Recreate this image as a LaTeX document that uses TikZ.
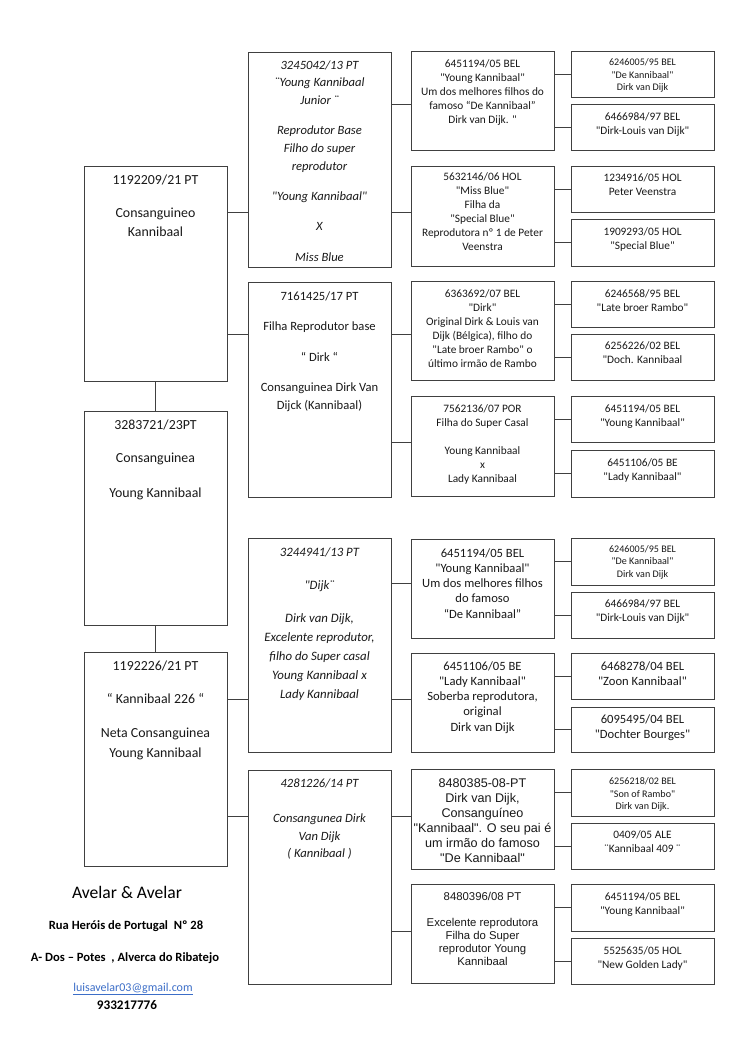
\documentclass[tikz,border=0pt]{standalone}
\usepackage{fontspec}
\newfontfamily\carl{Carlito}
\newfontfamily\arialf{Liberation Sans}
\definecolor{lc}{RGB}{64,64,64}
\definecolor{lnk}{RGB}{60,110,200}
\newcommand\fgA{\carl\fontsize{13.86}{19.45}\selectfont}
\newcommand\fgB{\carl\fontsize{12.6}{17.7}\selectfont\itshape}
\newcommand\fgBr{\carl\fontsize{12.6}{17.7}\selectfont}
\newcommand\fgBd{\carl\fontsize{12.8}{19}\selectfont\itshape}
\newcommand\fnine{\carl\fontsize{11.34}{14}\selectfont}
\newcommand\ften{\carl\fontsize{12.6}{15.3}\selectfont}
\newcommand\feight{\carl\fontsize{10.08}{12.3}\selectfont}
\newcommand\farA{\arialf\fontsize{12.6}{15.1}\selectfont}
\newcommand\farB{\arialf\fontsize{11.34}{13}\selectfont}
\tikzset{
  pbx/.style={draw=lc,line width=1pt,inner sep=0pt,outer sep=0pt,rectangle},
  ptxt/.style={inner sep=0pt,outer sep=0pt,align=center,text=black!90},
  link/.style={draw=lc,line width=1pt},
}
\newcommand\pbox[5]{\node[pbx,minimum width={(#4)-(#2)},minimum height={(#5)-(#3)}] (#1) at ({((#2)+(#4))/2},{((#3)+(#5))/2}) {};}
\newcommand\ptx[4]{\node[ptxt,font=#2,anchor=north] (#1t) at ([yshift=#3pt]#1.north) {\rule{0pt}{1em}#4};}
\begin{document}
\begin{tikzpicture}[x=1pt,y=-1pt]
\carl
\fill[white] (0,0) rectangle (750,1060);
\useasboundingbox (0,0) rectangle (750,1060);
% generation 1
\pbox{A}{84}{166}{227}{381}
\pbox{B}{84}{411}{227}{625}
\pbox{C}{84}{652}{227}{866}
% generation 2
\pbox{D1}{248}{52}{391}{267}
\pbox{D2}{248}{282}{391}{497}
\pbox{D3}{248}{538}{391}{752}
\pbox{D4}{248}{770}{391}{984}
% generation 3
\pbox{E1}{411}{51}{554}{150}
\pbox{E2}{411}{166}{554}{266}
\pbox{E3}{411}{281}{554}{380}
\pbox{E4}{411}{396}{554}{496}
\pbox{E5}{411}{539}{554}{638}
\pbox{E6}{411}{653}{554}{752}
\pbox{E7}{411}{769}{554}{869}
\pbox{E8}{411}{884}{554}{983}
% generation 4
\pbox{F1}{571}{51}{714}{97}
\pbox{F2}{571}{104}{714}{150}
\pbox{F3}{571}{166}{714}{212}
\pbox{F4}{571}{219}{714}{266}
\pbox{F5}{571}{281}{714}{327}
\pbox{F6}{571}{334}{714}{380}
\pbox{F7}{571}{396}{714}{442}
\pbox{F8}{571}{450}{714}{497}
\pbox{F9}{571}{538}{714}{585}
\pbox{F10}{571}{592}{714}{638}
\pbox{F11}{571}{653}{714}{699}
\pbox{F12}{571}{707}{714}{752}
\pbox{F13}{571}{769}{714}{816}
\pbox{F14}{571}{823}{714}{869}
\pbox{F15}{571}{884}{714}{931}
\pbox{F16}{571}{938}{714}{984}
% texts generation 1
\ptx{A}{\fgA}{-5.1}{1192209/21 PT\\[12.6pt]Consanguineo\\Kannibaal}
\ptx{B}{\fgA}{-5.1}{3283721/23PT\\[13.5pt]Consanguinea\\[15pt]Young Kannibaal}
\ptx{C}{\fgA}{-5.1}{1192226/21 PT\\[13.5pt]“ Kannibaal 226 “\\[14.5pt]Neta Consanguinea\\Young Kannibaal}
% texts generation 2
\ptx{D1}{\fgB}{-4.4}{3245042/13 PT\\¨Young Kannibaal\\Junior ¨\\[12.6pt]Reprodutor Base\\Filho do super\\reprodutor\\[12.6pt]"Young Kannibaal"\\[12.6pt]X\\[12.6pt]Miss Blue}
\ptx{D2}{\fgBr}{-5.4}{7161425/17 PT\\[12.6pt]Filha Reprodutor base\\[13pt]“ Dirk “\\[13pt]Consanguinea Dirk Van\\Dijck (Kannibaal)}
\ptx{D3}{\fgBd}{-5.2}{3244941/13 PT\\[14pt]"Dijk¨\\[14pt]Dirk van Dijk,\\Excelente reprodutor,\\filho do Super casal\\Young Kannibaal x\\Lady Kannibaal}
\ptx{D4}{\fgB}{-4.4}{4281226/14 PT\\[17.7pt]Consangunea Dirk\\Van Dijk\\( Kannibaal )}
% texts generation 3
\ptx{E1}{\fnine}{-4.7}{6451194/05 BEL\\"Young Kannibaal"\\Um dos melhores filhos do\\famoso “De Kannibaal”\\Dirk van Dijk. "}
\ptx{E2}{\fnine}{-2.7}{5632146/06 HOL\\"Miss Blue"\\Filha da\\"Special Blue"\\Reprodutora nº 1 de Peter\\Veenstra}
\ptx{E3}{\fnine}{-4.7}{6363692/07 BEL\\"Dirk"\\Original Dirk \& Louis van\\Dijk (Bélgica), filho do\\"Late broer Rambo" o\\último irmão de Rambo}
\ptx{E4}{\fnine}{-4.7}{7562136/07 POR\\Filha do Super Casal\\[14pt]Young Kannibaal\\x\\Lady Kannibaal}
\ptx{E5}{\ften}{-5.4}{6451194/05 BEL\\"Young Kannibaal"\\Um dos melhores filhos\\do famoso\\“De Kannibaal”}
\ptx{E6}{\ften}{-4.4}{6451106/05 BE\\"Lady Kannibaal"\\Soberba reprodutora,\\original\\Dirk van Dijk}
\ptx{E7}{\farA}{-5.4}{8480385-08-PT\\Dirk van Dijk,\\Consanguíneo\\"Kannibaal". O seu pai é\\um irmão do famoso\\"De Kannibaal"}
\ptx{E8}{\farB}{-4.7}{8480396/08 PT\\[13pt]Excelente reprodutora\\Filha do Super\\reprodutor Young\\Kannibaal}
% texts generation 4
\ptx{F1}{\feight}{-4.9}{6246005/95 BEL\\"De Kannibaal"\\Dirk van Dijk}
\ptx{F2}{\fnine}{-5.4}{6466984/97 BEL\\"Dirk-Louis van Dijk"}
\ptx{F3}{\fnine}{-3.7}{1234916/05 HOL\\Peter Veenstra}
\ptx{F4}{\fnine}{-4.7}{1909293/05 HOL\\"Special Blue"}
\ptx{F5}{\fnine}{-4.7}{6246568/95 BEL\\"Late broer Rambo"}
\ptx{F6}{\fnine}{-4.3}{6256226/02 BEL\\"Doch. Kannibaal}
\ptx{F7}{\fnine}{-4.7}{6451194/05 BEL\\"Young Kannibaal"}
\ptx{F8}{\fnine}{-4.7}{6451106/05 BE\\"Lady Kannibaal"}
\ptx{F9}{\feight}{-4.4}{6246005/95 BEL\\"De Kannibaal"\\Dirk van Dijk}
\ptx{F10}{\fnine}{-4.3}{6466984/97 BEL\\"Dirk-Louis van Dijk"}
\ptx{F11}{\ften}{-4.4}{6468278/04 BEL\\"Zoon Kannibaal"}
\ptx{F12}{\ften}{-3.7}{6095495/04 BEL\\"Dochter Bourges"}
\ptx{F13}{\feight}{-5.9}{6256218/02 BEL\\"Son of Rambo"\\Dirk van Dijk.}
\ptx{F14}{\fnine}{-4.3}{0409/05 ALE\\¨Kannibaal 409 ¨}
\ptx{F15}{\fnine}{-5.0}{6451194/05 BEL\\"Young Kannibaal"}
\ptx{F16}{\fnine}{-5.0}{5525635/05 HOL\\"New Golden Lady"}
% connectors generation 1
\draw[link] (A.south) -- (B.north);
\draw[link] (B.south) -- (C.north);
\draw[link] (A.east |- 0,212) -- (D1.west |- 0,212);
\draw[link] (A.east |- 0,334) -- (D2.west |- 0,334);
\draw[link] (C.east |- 0,699) -- (D3.west |- 0,699);
\draw[link] (C.east |- 0,816) -- (D4.west |- 0,816);
% connectors generation 2
\draw[link] (D1.east |- 0,104) -- (E1.west |- 0,104);
\draw[link] (D1.east |- 0,212) -- (E2.west |- 0,212);
\draw[link] (D2.east |- 0,334) -- (E3.west |- 0,334);
\draw[link] (D2.east |- 0,442) -- (E4.west |- 0,442);
\draw[link] (D3.east |- 0,583) -- (E5.west |- 0,583);
\draw[link] (D3.east |- 0,699) -- (E6.west |- 0,699);
\draw[link] (D4.east |- 0,816) -- (E7.west |- 0,816);
\draw[link] (D4.east |- 0,931) -- (E8.west |- 0,931);
% connectors generation 3
\draw[link] (E1.east |- F1.west) -- (F1.west);
\draw[link] (E1.east |- F2.west) -- (F2.west);
\draw[link] (E2.east |- F3.west) -- (F3.west);
\draw[link] (E2.east |- F4.west) -- (F4.west);
\draw[link] (E3.east |- F5.west) -- (F5.west);
\draw[link] (E3.east |- F6.west) -- (F6.west);
\draw[link] (E4.east |- F7.west) -- (F7.west);
\draw[link] (E4.east |- F8.west) -- (F8.west);
\draw[link] (E5.east |- F9.west) -- (F9.west);
\draw[link] (E5.east |- F10.west) -- (F10.west);
\draw[link] (E6.east |- F11.west) -- (F11.west);
\draw[link] (E6.east |- F12.west) -- (F12.west);
\draw[link] (E7.east |- F13.west) -- (F13.west);
\draw[link] (E7.east |- F14.west) -- (F14.west);
\draw[link] (E8.east |- F15.west) -- (F15.west);
\draw[link] (E8.east |- F16.west) -- (F16.west);
% footer
\node[anchor=base,inner sep=0pt,font=\carl\fontsize{17.6}{20}\selectfont] (ft1) at (127,898) {Avelar \& Avelar};
\node[anchor=base,inner sep=0pt,font=\carl\fontsize{12.6}{14}\selectfont\bfseries] (ft2) at (126,929.5) {Rua Heróis de Portugal\ \ Nº 28};
\node[anchor=base,inner sep=0pt,font=\carl\fontsize{12.6}{14}\selectfont\bfseries] (ft3) at (125,961.5) {A- Dos – Potes\ \ , Alverca do Ribatejo};
\node[anchor=base,inner sep=0pt,font=\carl\fontsize{12}{14}\selectfont,text=lnk] (ft4) at (133,991) {\underline{luisavelar03@gmail.com}};
\node[anchor=base,inner sep=0pt,font=\carl\fontsize{13.2}{15}\selectfont\bfseries] (ft5) at (127,1009) {933217776};
\end{tikzpicture}
\end{document}
